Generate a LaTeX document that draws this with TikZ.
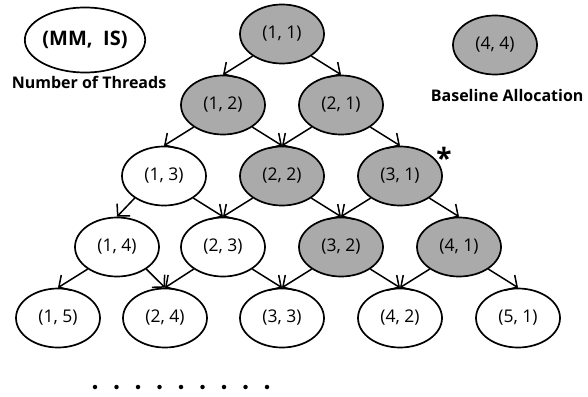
\documentclass[tikz,border=0pt]{standalone}
\usepackage{fontspec}
\setmainfont{Open Sans}
\usetikzlibrary{arrows.meta,shapes.geometric}
\definecolor{nodegray}{RGB}{170,170,170}
\begin{document}
\begin{tikzpicture}[x=1pt,y=-1pt,
  state/.style={ellipse,draw,line width=1.7pt,minimum width=84pt,minimum height=59pt,inner sep=0pt,font=\fontsize{17.5}{20}\selectfont},
  base/.style={state,fill=nodegray},
  edge/.style={line width=1.5pt,-{Straight Barb[length=8.5pt,width=18pt,line width=1.5pt]}},
  legend/.style={font=\fontsize{16}{19}\selectfont\bfseries},
  dot/.style={circle,fill=black,inner sep=0pt,minimum size=4.5pt}]
\useasboundingbox (0,0) rectangle (588,396);
% legend
\node[ellipse,draw,line width=1.7pt,minimum width=115pt,minimum height=65pt,inner sep=0pt,font=\fontsize{20}{23}\selectfont\bfseries] (leg1) at (85,40) {(MM,\ \ IS)};
\node[legend] (leg1t) at (89,82) {Number of Threads};
\node[base] (leg2) at (495,45) {(4, 4)};
\node[legend,anchor=east] (leg2t) at (587,95) {Baseline Allocation};
% nodes
\node[base] (n11) at (282,34) {(1, 1)};
\node[base] (n12) at (223,105) {(1, 2)};
\node[base] (n21) at (341,105) {(2, 1)};
\node[state] (n13) at (164,176) {(1, 3)};
\node[base] (n22) at (282,176) {(2, 2)};
\node[base] (n31) at (400,176) {(3, 1)};
\node[state] (n14) at (117,247) {(1, 4)};
\node[state] (n23) at (223,247) {(2, 3)};
\node[base] (n32) at (341,247) {(3, 2)};
\node[base] (n41) at (459,247) {(4, 1)};
\node[state] (n15) at (58,318) {(1, 5)};
\node[state] (n24) at (165,318) {(2, 4)};
\node[state] (n33) at (282,318) {(3, 3)};
\node[state] (n42) at (400,318) {(4, 2)};
\node[state] (n51) at (518,318) {(5, 1)};
\node[font=\fontsize{28}{28}\selectfont\bfseries] (star) at (444,158) {*};
% edges
\foreach \s/\l/\r in {n11/n12/n21, n12/n13/n22, n21/n22/n31, n13/n14/n23, n22/n23/n32, n31/n32/n41, n14/n15/n24, n23/n24/n33, n32/n33/n42, n41/n42/n51}{
  \draw[edge] (\s.-143) -- (\l.north);
  \draw[edge] (\s.-37) -- (\r.north);
}
% dots
\foreach \i in {0,...,8}{
  \node[dot] (d\i) at (95+21.5*\i,387) {};
}
\end{tikzpicture}
\end{document}
